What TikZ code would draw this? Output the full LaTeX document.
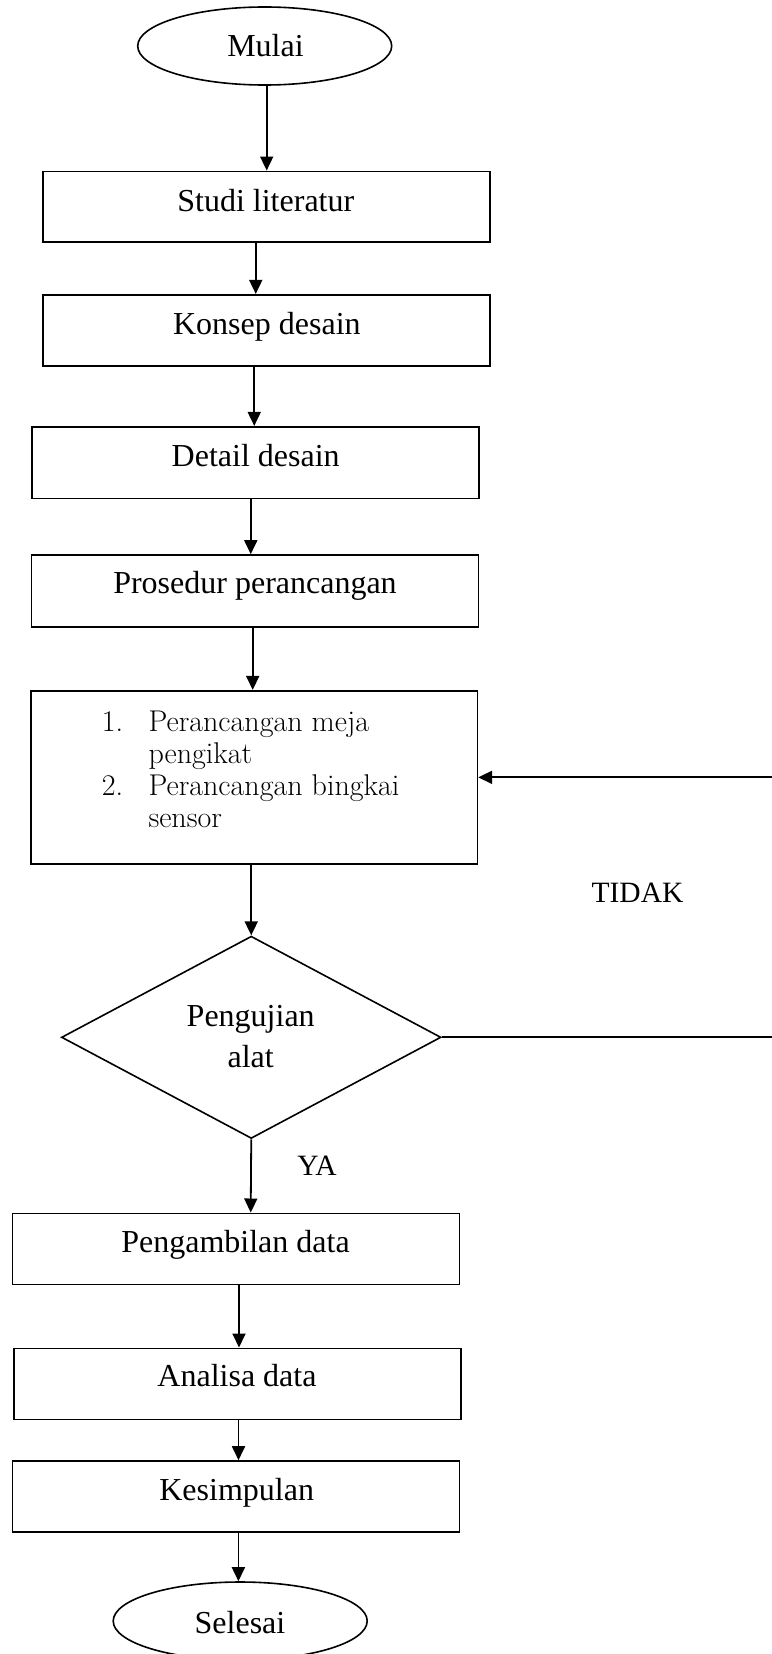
\documentclass[tikz,border=0pt]{standalone}
\usepackage{fontspec}
\newfontfamily\tnr{Liberation Serif}
\usetikzlibrary{shapes.geometric,arrows.meta}
\begin{document}
\begin{tikzpicture}[x=1pt,y=-1pt,
  box/.style={draw, line width=1.6pt, rectangle, inner sep=0pt, minimum width=447pt},
  term/.style={draw, line width=1.6pt, ellipse, inner sep=0pt, minimum width=254pt, minimum height=78pt},
  dec/.style={draw, line width=1.6pt, diamond, inner sep=0pt, minimum width=379.5pt, minimum height=202.3pt},
  lbl/.style={anchor=base, inner sep=0pt, font=\tnr\fontsize{32}{38}\selectfont},
  lstx/.style={anchor=base west, inner sep=0pt, font=\fontsize{30}{33}\selectfont},
  yn/.style={anchor=base, inner sep=0pt, font=\tnr\fontsize{29.5}{35}\selectfont},
  arr/.style={line width=1.8pt, -{Triangle[length=14pt,width=13pt]}}
]
\useasboundingbox (0,0) rectangle (771,1654);

% terminals and boxes
\node[term] (mulai) at (264.7,46) {};
\node[lbl] (tmulai) at (265.5,57) {Mulai};

\node[box, minimum height=70.7pt] (studi) at (266.25,206.65) {};
\node[lbl] (tstudi) at (265.8,211) {Studi literatur};

\node[box, minimum height=71.3pt] (konsep) at (266.25,330.35) {};
\node[lbl] (tkonsep) at (266.9,334) {Konsep desain};

\node[box, minimum height=71.6pt] (detail) at (255.25,462.5) {};
\node[lbl] (tdetail) at (255.7,466) {Detail desain};

\node[box, minimum height=71.7pt] (pros) at (255,590.85) {};
\node[lbl] (tpros) at (255,593.5) {Prosedur perancangan};

\node[box, minimum width=446.4pt, minimum height=173.3pt] (rancang) at (254.2,777.35) {};
\node[lstx] (n1) at (101.7,731) {1.};
\node[lstx] (l1) at (148.3,731) {Perancangan meja};
\node[lstx] (l2) at (148.3,763) {pengikat};
\node[lstx] (n2) at (101.7,795) {2.};
\node[lstx] (l3) at (148.3,795) {Perancangan bingkai};
\node[lstx] (l4) at (148.3,827) {sensor};

\node[dec] (uji) at (251.25,1037.3) {};
\node[lbl] (tuji1) at (250.7,1026.7) {Pengujian};
\node[lbl] (tuji2) at (250.7,1067.3) {alat};

\node[yn] (tidak) at (637.5,902.5) {TIDAK};
\node[yn] (ya) at (317,1175) {YA};

\node[box, minimum height=71pt] (ambil) at (236,1248.8) {};
\node[lbl] (tambil) at (235.5,1252.7) {Pengambilan data};

\node[box, minimum height=71pt] (analisa) at (237.5,1383.8) {};
\node[lbl] (tanalisa) at (237,1386.7) {Analisa data};

\node[box, minimum height=70.7pt] (simpul) at (236,1496.35) {};
\node[lbl] (tsimpul) at (236.7,1500) {Kesimpulan};

\node[term] (selesai) at (240.2,1621) {};
\node[lbl] (tselesai) at (240,1633.3) {Selesai};

% connectors
\draw[arr] ([xshift=2pt]mulai.south) -- ([xshift=2pt]mulai.south |- studi.north);
\draw[arr] ([xshift=-10.5pt]studi.south) -- ([xshift=-10.5pt]studi.south |- konsep.north);
\draw[arr] ([xshift=-12pt]konsep.south) -- ([xshift=-12pt]konsep.south |- detail.north);
\draw[arr] ([xshift=-4.5pt]detail.south) -- ([xshift=-4.5pt]detail.south |- pros.north);
\draw[arr] ([xshift=-2.3pt]pros.south) -- ([xshift=-2.3pt]pros.south |- rancang.north);
\draw[arr] (rancang.south -| uji.north) -- (uji.north);
\draw[arr] (uji.south) -- ([xshift=14.7pt]ambil.north);
\draw[arr] ([xshift=3pt]ambil.south) -- ([xshift=3pt]ambil.south |- analisa.north);
\draw[arr] ([xshift=1pt]analisa.south) -- ([xshift=1pt]analisa.south |- simpul.north);
\draw[arr] ([xshift=2.4pt]simpul.south) -- ([xshift=2.4pt]simpul.south |- selesai.north);

\coordinate (fb) at (790,1037.3);
\draw[arr] (uji.east) -- (fb) |- (rancang.east);
\end{tikzpicture}
\end{document}
